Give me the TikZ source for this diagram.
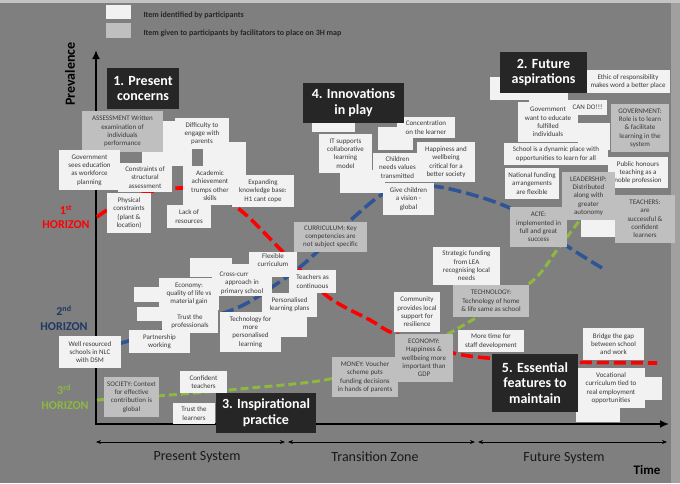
\documentclass[tikz,border=0pt]{standalone}
\usepackage{fontspec}
\setmainfont{Carlito}
\usetikzlibrary{arrows.meta}
\definecolor{bgc}{HTML}{7F7F7F}
\definecolor{postw}{HTML}{F2F2F2}
\definecolor{postg}{HTML}{BFBFBF}
\definecolor{headk}{HTML}{262626}
\definecolor{boxtxt}{HTML}{3A3A3A}
\definecolor{hred}{HTML}{FF0000}
\definecolor{hnavy}{HTML}{1F3864}
\definecolor{lblue}{HTML}{2F5597}
\definecolor{lgreen}{HTML}{8DB93F}
\definecolor{stripc}{HTML}{A0A0A0}
\definecolor{topc}{HTML}{C4C4C4}
\newcommand\myboxfont{\fontsize{7}{8.3}\selectfont}
\newcommand\myheadfont{\fontsize{14}{15.8}\selectfont\bfseries}
\newcommand\postit[7]{%
 \pgfmathsetmacro\myW{#5-#3}%
 \pgfmathsetmacro\myH{#6-#4}%
 \pgfmathsetmacro\myCX{(#3+#5)/2}%
 \pgfmathsetmacro\myCY{(#4+#6)/2}%
 \node[#1,minimum width=\myW pt,minimum height=\myH pt] (#2) at (\myCX,\myCY) {#7};}
\tikzset{
 wbox/.style={fill=postw,inner sep=0.5pt,align=center,text=boxtxt,font=\myboxfont},
 gbox/.style={wbox,fill=postg},
 blank/.style={fill=postw,inner sep=0pt},
 hbox/.style={fill=headk,text=white,inner sep=0.5pt,align=center,font=\myheadfont},
 axisline/.style={line width=2.2pt,black},
 tarrow/.style={line width=0.9pt,{Stealth[length=5pt,width=4pt]}-{Stealth[length=5pt,width=4pt]}},
 redline/.style={hred,line width=3.6pt,dash pattern=on 12pt off 5pt},
 blueline/.style={lblue,line width=3.6pt,dash pattern=on 13pt off 5pt},
 greenline/.style={lgreen,line width=3pt,dash pattern=on 8pt off 4pt},
 horlabel/.style={font=\fontsize{12}{13}\selectfont\bfseries},
 timelabel/.style={font=\fontsize{14}{16}\selectfont,text=black!90},
 legtext/.style={anchor=west,font=\fontsize{8}{9}\selectfont\bfseries,text=black!85}
}
\begin{document}
\begin{tikzpicture}[x=1pt,y=-1pt]
\path[use as bounding box] (0,0) rectangle (680,483);
\fill[bgc] (0,0) rectangle (680,483);
\fill[topc] (0,0) rectangle (680,2.5);
\fill[stripc] (671,2.5) rectangle (680,483);
% legend
\postit{blank}{legw}{106}{5}{131}{19}{}
\postit{blank,fill=postg}{legg}{106}{23}{131}{38}{}
\node[legtext] (legwt) at (140,15.5) {Item identified by participants};
\node[legtext] (leggt) at (140,33) {Item given to participants by facilitators to place on 3H map};
% axes
\coordinate (ytop) at (96,50);
\coordinate (orig) at (96,424);
\coordinate (xend) at (669,424);
\draw[axisline,{Latex[length=9pt,width=8pt]}-{Latex[length=9pt,width=8pt]}] (ytop) -- (orig) -- (xend);
\node[rotate=90,font=\fontsize{14}{16}\selectfont\bfseries] (prev) at (70,74) {Prevalence};
% time zones
\coordinate (t0) at (96,442);
\coordinate (t1a) at (285,442);
\coordinate (t1b) at (288,442);
\coordinate (t2a) at (475,442);
\coordinate (t2b) at (478,442);
\coordinate (t3) at (667,442);
\draw[tarrow] (t0) -- (t1a);
\draw[tarrow] (t1b) -- (t2a);
\draw[tarrow] (t2b) -- (t3);
\node[timelabel] (lps) at (197,457) {Present System};
\node[timelabel] (ltz) at (375,457) {Transition Zone};
\node[timelabel] (lfs) at (564,458) {Future System};
\node[font=\fontsize{13}{15}\selectfont\bfseries] (ltime) at (647,470) {Time};
% horizon labels
\node[horlabel,text=hred] (h1n) at (66,210) {1\textsuperscript{st}};
\node[horlabel,text=hred] (h1t) at (66,225) {HORIZON};
\node[horlabel,text=hnavy] (h2n) at (64,311) {2\textsuperscript{nd}};
\node[horlabel,text=hnavy] (h2t) at (64,327) {HORIZON};
\node[horlabel,text=lgreen] (h3n) at (64,390) {3\textsuperscript{rd}};
\node[horlabel,text=lgreen] (h3t) at (65,406) {HORIZON};
% curves
\draw[greenline] plot[smooth,tension=0.55] coordinates {(97,400) (170,395) (250,388) (330,379) (400,358) (462,326) (530,283) (557,250) (580,220) (598,198)};
\draw[blueline] plot[smooth,tension=0.55] coordinates {(100,348) (125,342) (175,327) (237,308) (278,283) (306,262) (353,218) (383,194) (410,186) (440,187) (480,197) (512,209) (545,228) (567,246) (602,268)};
\draw[redline] plot[smooth,tension=0.55] coordinates {(97,217) (130,197) (178,188) (215,194) (245,214) (283,252) (327,296) (370,320) (395,334) (453,353) (500,359) (560,362) (657,363)};
% blank notes
\postit{blank}{bA}{142}{121}{192}{166}{}
\postit{blank}{bB}{203}{142}{246}{175}{}
\postit{blank}{bD}{312}{100}{355}{132}{}
\postit{blank}{bE}{378}{127}{413}{150}{}
\postit{blank}{bF}{340}{170}{385}{193}{}
\postit{blank}{bG}{490}{77}{530}{100}{}
\postit{blank}{bH}{529}{88}{568}{103}{}
\postit{blank}{bI}{578}{123}{610}{150}{}
\postit{blank}{bJ}{581}{205}{615}{237}{}
\postit{blank}{bK}{190}{258}{232}{277}{}
\postit{blank}{bL}{134}{287}{160}{302}{}
\postit{blank}{bM}{137}{307}{163}{321}{}
\postit{blank}{bN}{275}{312}{307}{337}{}
\postit{blank}{bO}{644}{377}{662}{400}{}
\postit{blank}{bP}{576}{405}{620}{422}{}
% present concerns
\postit{gbox}{assess}{82}{111}{163}{152}{ASSESSMENT Written\\examination of\\individuals\\performance}
\postit{wbox}{gov1}{59}{150}{120}{190}{Government\\sees education\\as workforce\\planning}
\postit{wbox}{constr}{118}{163}{172}{192}{Constraints of\\structural\\assessment}
\postit{wbox}{diff}{175}{118}{229}{149}{Difficulty to\\engage with\\parents}
\postit{wbox}{acad}{183}{166}{237}{205}{Academic\\achievement\\trumps other\\skills}
\postit{wbox}{expand}{232}{175}{294}{207}{Expanding\\knowledge base:\\H1 cant cope}
\postit{wbox}{phys}{107}{193}{151}{233}{Physical\\constraints\\(plant \&\\location)}
\postit{wbox}{lack}{167}{205}{211}{228}{Lack of\\resources}
% innovations
\postit{wbox}{itsup}{319}{134}{372}{173}{IT supports\\collaborative\\learning\\model}
\postit{wbox}{conc}{397}{117}{455}{138}{Concentration\\on the learner}
\postit{wbox}{childv}{373}{153}{422}{182}{Children\\needs values\\transmitted}
\postit{wbox}{happy}{417}{142}{475}{182}{Happiness and\\wellbeing\\critical for a\\better society}
\postit{wbox}{vision}{383}{183}{434}{215}{Give children\\a vision -\\global}
\postit{gbox}{curric}{294}{222}{367}{252}{CURRICULUM: Key\\competencies are\\not subject specific}
% middle
\postit{blank}{crossbg}{212}{264}{272}{296}{}
\node[wbox,fill=none] (cross) at (242,283) {Cross-curricular\\approach in\\primary school};
\postit{wbox}{econ1}{159}{278}{219}{310}{Economy:\\quality of life vs\\material gain}
\postit{blank}{flexbg}{249}{252}{297}{277}{}
\node[wbox,fill=none] (flex) at (273,260) {Flexible\\curriculum};
\postit{wbox}{teachc}{289}{270}{336}{293}{Teachers as\\continuous}
\postit{wbox}{person}{262}{293}{317}{317}{Personalised\\learning plans}
\postit{wbox}{techp}{220}{312}{281}{352}{Technology for\\more\\personalised\\learning}
\postit{wbox}{trustp}{162}{310}{218}{333}{Trust the\\professionals}
\postit{wbox}{partner}{129}{330}{190}{353}{Partnership\\working}
\postit{wbox}{wellres}{59}{336}{121}{368}{Well resourced\\schools in NLC\\with DSM}
% lower left
\postit{gbox}{society}{104}{377}{159}{417}{SOCIETY: Context\\for effective\\contribution is\\global}
\postit{wbox}{confid}{180}{371}{227}{393}{Confident\\teachers}
\postit{wbox}{trustl}{173}{403}{215}{424}{Trust the\\learners}
% transition lower
\postit{gbox}{money}{332}{357}{398}{397}{MONEY: Voucher\\scheme puts\\funding decisions\\in hands of parents}
\postit{gbox}{econ2}{395}{334}{453}{382}{ECONOMY:\\Happiness \&\\wellbeing more\\important than\\GDP}
\postit{wbox}{commun}{394}{292}{440}{332}{Community\\provides local\\support for\\resilience}
\postit{wbox}{strat}{433}{247}{500}{285}{Strategic funding\\from LEA\\recognising local\\needs}
\postit{gbox}{techh}{453}{285}{529}{317}{TECHNOLOGY:\\Technology of home\\\& life same as school}
\postit{wbox}{moretime}{458}{330}{524}{352}{More time for\\staff development}
% right lower
\postit{wbox}{bridge}{583}{328}{644}{360}{Bridge the gap\\between school\\and work}
\postit{wbox}{vocat}{577}{368}{645}{408}{Vocational\\curriculum tied to\\real employment\\opportunities}
% future
\postit{wbox}{ethic}{586}{70}{670}{93}{Ethic of responsibility\\makes word a better place}
\postit{wbox}{govwant}{518}{102}{578}{142}{Government\\want to educate\\fulfilled\\individuals}
\postit{wbox}{cando}{568}{100}{607}{115}{CAN DO!!!}
\postit{gbox}{govrole}{611}{104}{669}{152}{GOVERNMENT:\\Role is to learn\\\& facilitate\\learning in the\\system}
\postit{wbox}{dynamic}{504}{143}{608}{165}{School is a dynamic place with\\opportunities to learn for all}
\postit{wbox}{honours}{608}{157}{668}{188}{Public honours\\teaching as a\\noble profession}
\postit{wbox}{natfund}{505}{168}{559}{199}{National funding\\arrangements\\are flexible}
\postit{gbox}{leader}{562}{172}{615}{220}{LEADERSHIP:\\Distributed\\along with\\greater\\autonomy}
\postit{gbox}{teachers}{615}{195}{675}{243}{TEACHERS:\\are\\successful \&\\confident\\learners}
\postit{gbox}{acfe}{510}{207}{567}{247}{ACfE:\\implemented in\\full and great\\success}
% headings
\postit{hbox}{head1}{107}{68}{179}{109}{1. Present\\concerns}
\postit{hbox}{head2}{500}{52}{587}{93}{2. Future\\aspirations}
\postit{hbox}{head3}{216}{393}{316}{433}{3. Inspirational\\practice}
\postit{hbox}{head4}{303}{83}{404}{123}{4. Innovations\\in play}
\postit{hbox}{head5}{492}{354}{578}{412}{5. Essential\\features to\\maintain}
\end{tikzpicture}
\end{document}
